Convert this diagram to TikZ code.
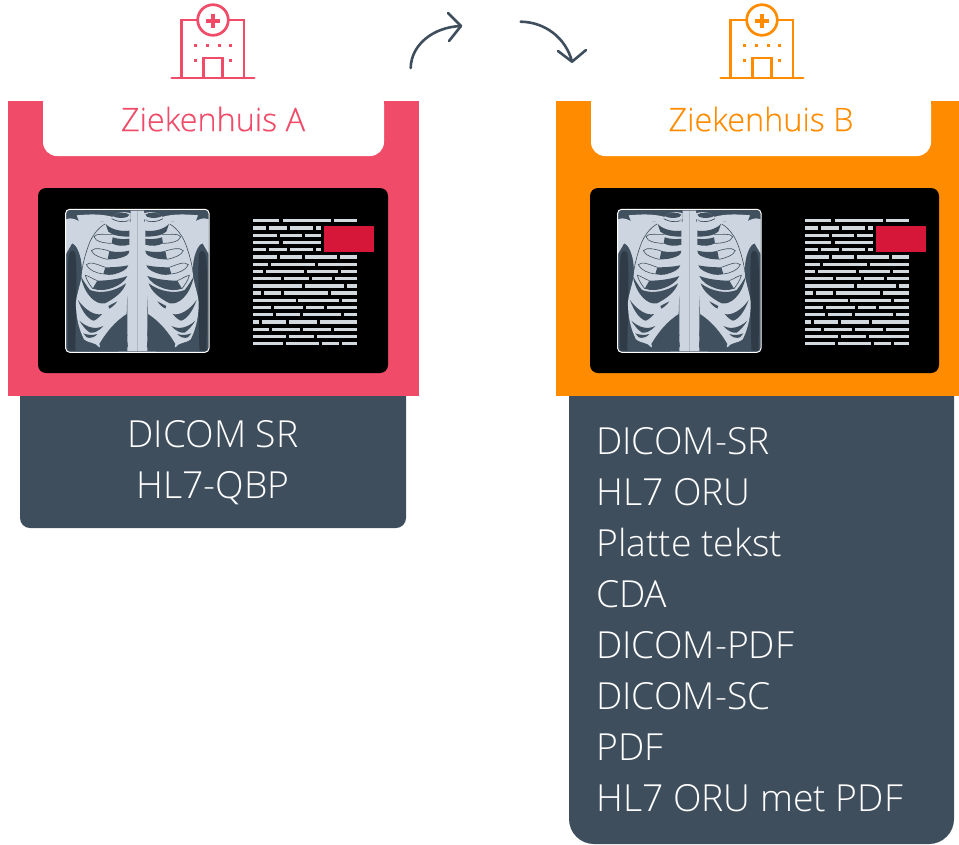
\documentclass[tikz,border=0pt]{standalone}
\usepackage{fontspec}
\setmainfont{Open Sans Light}
\newfontfamily\titlefont[FakeBold=0.2]{Open Sans Light}
\definecolor{pinkc}{HTML}{F04B68}
\definecolor{orangec}{HTML}{FF8C00}
\definecolor{slatec}{HTML}{3F4E5D}
\definecolor{redc}{HTML}{D7173A}
\definecolor{bonec}{HTML}{CDD6E0}
\definecolor{armc}{HTML}{2F3C47}
\definecolor{xbg}{HTML}{41505E}
\definecolor{linec}{HTML}{D3DADF}
\tikzset{
  iconline/.style={line width=2.7pt},
  bigtext/.style={font=\fontsize{37.3}{51}\selectfont,text=white,inner sep=0pt,align=left},
  midtext/.style={font=\fontsize{37.3}{51}\selectfont,text=white,inner sep=0pt,align=center},
  titletext/.style={font=\titlefont\fontsize{32.4}{38}\selectfont,inner sep=0pt},
  curvearrow/.style={draw=slatec,line width=2.6pt,line cap=round,line join=round},
}
\newcommand{\xrayhalf}{%
  % arm shadow
  \fill[armc] (84,482) .. controls (84,380) and (80,260) .. (86,200) .. controls (90,180) and (100,176) .. (106,190) .. controls (112,240) and (108,330) .. (106,482) -- cycle;
  % shoulder, chest and cage
  \fill[bonec] (78,88) .. controls (95,80) and (110,90) .. (120,95) -- (290,95) -- (290,320) -- (262,375) .. controls (235,395) and (205,430) .. (178,472) .. controls (165,455) and (150,462) .. (132,448) .. controls (118,420) and (110,390) .. (108,350) .. controls (105,320) and (125,280) .. (126,245) .. controls (125,215) and (122,200) .. (116,185) .. controls (110,170) and (104,162) .. (96,160) .. controls (90,172) and (84,180) .. (78,192) -- cycle;
  % sternum and spine
  \fill[bonec] (272,62) -- (292,62) -- (292,484) -- (235,484) -- (235,478) .. controls (250,476) and (262,476) .. (264,470) -- (262,455) -- (248,445) -- (262,438) -- (260,405) -- (250,400) -- (260,392) -- (262,310) -- (272,296) -- cycle;
  % gaps between the ribs
  \fill[xbg] (197,102) .. controls (215,120) and (245,125) .. (268,122) -- (268,140) .. controls (250,140) and (230,138) .. (218,133) -- (205,125) -- cycle;
  \fill[xbg] (218,142) .. controls (235,148) and (255,148) .. (268,146) -- (268,164) .. controls (250,170) and (230,168) .. (215,160) -- cycle;
  \fill[xbg] (208,183) .. controls (230,188) and (250,186) .. (268,182) .. controls (268,195) and (255,200) .. (240,204) .. controls (225,208) and (212,208) .. (203,208) -- cycle;
  \fill[xbg] (196,232) .. controls (220,232) and (245,230) .. (265,226) .. controls (262,240) and (240,248) .. (222,253) .. controls (212,255) and (200,255) .. (190,252) -- cycle;
  \fill[xbg] (172,272) .. controls (200,272) and (235,268) .. (262,258) .. controls (255,275) and (235,288) .. (210,296) .. controls (195,301) and (175,302) .. (158,296) -- cycle;
  \fill[xbg] (122,258) .. controls (132,275) and (140,288) .. (150,300) .. controls (180,312) and (225,305) .. (258,280) .. controls (250,305) and (225,325) .. (195,340) .. controls (170,345) and (135,320) .. (122,258) -- cycle;
  \fill[xbg] (114,330) .. controls (135,360) and (165,378) .. (186,372) .. controls (175,385) and (165,392) .. (160,392) .. controls (140,385) and (125,360) .. (114,330) -- cycle;
  \fill[xbg] (118,392) .. controls (140,412) and (165,420) .. (190,408) .. controls (175,425) and (160,430) .. (150,428) .. controls (138,420) and (128,408) .. (118,392) -- cycle;
  \fill[xbg] (130,430) .. controls (145,436) and (160,436) .. (172,432) .. controls (165,442) and (150,446) .. (140,442) -- cycle;
  \fill[xbg] (205,348) -- (232,334) .. controls (225,345) and (215,352) .. (208,356) -- cycle;
  \fill[xbg] (262,318) -- (260,372) .. controls (225,395) and (200,425) .. (178,462) -- (186,484) -- (262,484) -- (262,440) -- cycle;
  % fine rib outlines
  \draw[xbg,line width=.6pt] (218,133) .. controls (195,135) and (170,128) .. (162,140) .. controls (165,155) and (195,160) .. (215,160);
  \draw[xbg,line width=.6pt] (208,183) .. controls (190,178) and (165,170) .. (154,182) .. controls (158,195) and (185,205) .. (203,208);
  \draw[xbg,line width=.6pt] (196,232) .. controls (175,225) and (150,212) .. (139,224) .. controls (145,240) and (170,250) .. (190,252);
  \draw[xbg,line width=.6pt] (172,272) .. controls (160,268) and (148,258) .. (136,256) .. controls (140,272) and (150,285) .. (158,296);
  \draw[xbg,line width=.6pt] (195,102) .. controls (172,115) and (155,140) .. (146,165) .. controls (135,195) and (128,225) .. (124,250);
  % clavicle
  \fill[bonec] (110,76) .. controls (150,72) and (185,72) .. (215,80) .. controls (235,85) and (255,88) .. (270,88) .. controls (270,100) and (262,108) .. (245,110) .. controls (225,108) and (205,100) .. (190,95) -- (118,97) -- cycle;
  \draw[xbg,line width=.7pt] (215,86) .. controls (230,95) and (250,98) .. (265,92);
  % sternum head
  \fill[bonec] (216,82) .. controls (225,68) and (250,62) .. (272,70) -- (272,88) .. controls (250,86) and (232,88) .. (216,82) -- cycle;
  \fill[xbg] (218,78) .. controls (230,66) and (255,64) .. (268,74) .. controls (268,84) and (235,88) .. (218,78) -- cycle;
}
\newcommand{\xray}[1]{%
  \begin{scope}[shift={(40+#1,190)},x=0.33333pt,y=-0.33333pt]
    \fill[xbg,rounded corners=4pt] (77,58) rectangle (507,487);
    \begin{scope}
      \clip[rounded corners=4pt] (77,58) rectangle (507,487);
      \xrayhalf
    \end{scope}
  \end{scope}
  \begin{scope}[shift={(40+#1+194.67,190)},x=-0.33333pt,y=-0.33333pt]
    \begin{scope}
      \clip[rounded corners=4pt] (77,58) rectangle (507,487);
      \xrayhalf
    \end{scope}
  \end{scope}
  \draw[white,line width=1pt,rounded corners=4pt] (65.7+#1,209.3) rectangle (209+#1,352.3);
}
\newcommand{\report}[1]{%
  \begin{scope}[shift={(240+#1,205)},x=0.33333pt,y=-0.33333pt]
    \foreach \yy/\segs in {47/{40/118,128/274,283/350},69/{40/77,86/141,150/219,228/243},91/{40/112,120/186,194/243},113/{40/118,128/243},134/{40/77,86/141,150/219,228/243},156/{40/112,120/186,194/292,301/350},178/{40/85,94/226,235/350},199/{40/69,78/192,201/294,303/350},221/{40/124,132/208,217/275,284/350},243/{40/185,194/311,320/350},264/{40/63,72/123,132/264,273/350},286/{40/167,175/297,306/350},308/{40/94,103/190,199/251,260/350},329/{40/100,109/179,188/302,312/350},351/{40/58,67/138,147/230,239/350},373/{40/87,97/181,190/273,282/350},394/{40/139,148/222,231/350},416/{40/129,138/237,246/297,306/350}}{
      \foreach \xa/\xb in \segs {
        \fill[linec] (\xa,\yy-5) rectangle (\xb,\yy+5);
      }
    }
    \fill[redc] (252,63) rectangle (402,141);
  \end{scope}
}
\newcommand{\hospital}[2]{%
  \begin{scope}[shift={(#1,0)},#2]
    \draw[iconline] (181.7,78) -- (181.7,20) -- (198,20) (228,20) -- (244,20) -- (244,78);
    \draw[iconline,line cap=round] (171.7,78) -- (254.3,78);
    \draw[iconline] (213,20) circle (15.3pt);
    \fill (211,13.5) rectangle (215,27.5);
    \fill (206,18.5) rectangle (220,22.5);
    \draw[iconline] (203.3,78) -- (203.3,58) -- (222.3,58) -- (222.3,78);
    \foreach \wx in {195.3,207,219,230.7} \fill (\wx-1.5,43.8) rectangle (\wx+1.5,46.8);
    \foreach \wx in {195.3,230.7} \fill (\wx-1.5,58.8) rectangle (\wx+1.5,61.8);
  \end{scope}
}
\begin{document}
\begin{tikzpicture}[x=1pt,y=-1pt]
\useasboundingbox (0,0) rectangle (959,844);
% Hospital A
\hospital{0}{pinkc,draw=pinkc,fill=pinkc}
\fill[slatec,rounded corners=10pt] (20,370) rectangle (406,528);
\fill[pinkc] (8,101) rectangle (419,396);
\fill[white,rounded corners=14pt] (43,90) rectangle (384,156);
\fill[black,rounded corners=8pt] (38,188) rectangle (388,373);
\xray{0}
\report{0}
\node[titletext,text=pinkc] (titleA) at (213,119) {Ziekenhuis A};
\node[midtext] (listA) at (213,462.5) {DICOM SR\\HL7-QBP};
% Hospital B
\hospital{549}{orangec,draw=orangec,fill=orangec}
\fill[slatec,rounded corners=25pt] (569,350) rectangle (954,844);
\fill[orangec] (556,101) rectangle (959,396);
\fill[white,rounded corners=14pt] (591,90) rectangle (931,156);
\fill[black,rounded corners=8pt] (590,188) rectangle (939,373);
\xray{552}
\report{552}
\node[titletext,text=orangec] (titleB) at (761,119) {Ziekenhuis B};
\node[bigtext,anchor=west] (listB) at (596,619.5) {DICOM-SR\\HL7 ORU\\Platte tekst\\CDA\\DICOM-PDF\\DICOM-SC\\PDF\\HL7 ORU met PDF};
% arrows
\coordinate (a1s) at (410.7,68);
\coordinate (a1e) at (461,26);
\coordinate (a1u) at (448,13);
\coordinate (a1d) at (449,41);
\coordinate (a2s) at (520.7,21.7);
\coordinate (a2e) at (572,61.7);
\coordinate (a2l) at (558,51);
\coordinate (a2r) at (586,50);
\draw[curvearrow] (a1s) .. controls (411,45) and (433,27) .. (a1e);
\draw[curvearrow] (a1u) -- (a1e) -- (a1d);
\draw[curvearrow] (a2s) .. controls (545,22) and (566,38) .. (a2e);
\draw[curvearrow] (a2l) -- (a2e) -- (a2r);
\end{tikzpicture}
\end{document}
